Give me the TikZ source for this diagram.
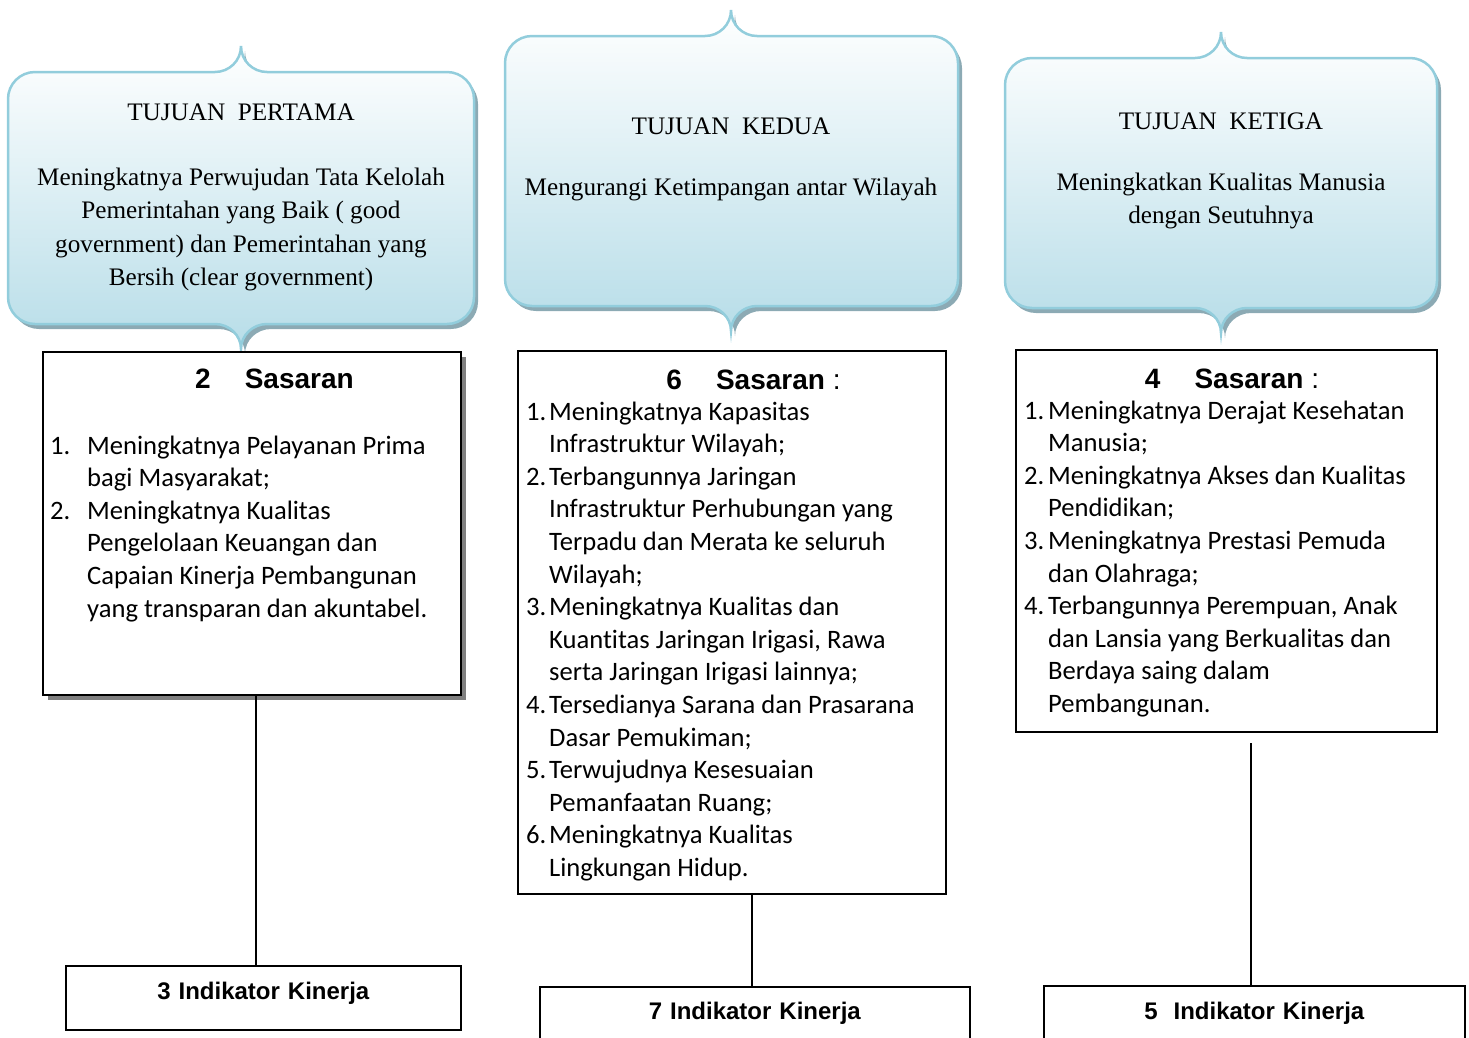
\documentclass[tikz,border=0pt]{standalone}
\usepackage{fontspec}
\setmainfont{Liberation Serif}
\newfontfamily\arialfont{Liberation Sans}
\newfontfamily\calibrifont[Ligatures=NoCommon]{Carlito}
\usepackage{tikz}
\usetikzlibrary{positioning,shadows}

\definecolor{tujuanline}{RGB}{146,205,220}
\definecolor{tujuanfill}{RGB}{183,221,232}
\definecolor{tujuanshadow}{RGB}{140,170,180}

% callout outline: left, top, right, bottom, middle
\newcommand{\tujuanpath}[5]{%
  (#1,#2+27) arc[start angle=180, end angle=270, radius=27] -- (#5-26,#2)
  .. controls (#5-12,#2) and (#5,#2-11) .. (#5,#2-26)
  .. controls (#5,#2-11) and (#5+12,#2) .. (#5+26,#2)
  -- (#3-27,#2) arc[start angle=-90, end angle=0, radius=27]
  -- (#3,#4-27) arc[start angle=0, end angle=90, radius=27]
  -- (#5+26,#4) .. controls (#5+12,#4) and (#5,#4+11) .. (#5,#4+25)
  .. controls (#5,#4+11) and (#5-12,#4) .. (#5-26,#4)
  -- (#1+27,#4) arc[start angle=90, end angle=180, radius=27] -- cycle}

\begin{document}
\begin{tikzpicture}[x=1pt, y=-1pt,
    tujuan/.style = {top color=white, bottom color=tujuanfill, draw=tujuanline, line width=2.5pt},
    bayang/.style = {fill=tujuanshadow, xshift=4pt, yshift=-5pt},
    tujuanteks/.style = {align=center, inner sep=0, anchor=north, font=\fontsize{25.2}{33.5}\selectfont},
    sasaran/.style = {draw, line width=1.6pt, fill=white, inner sep=0, anchor=north west},
    judul/.style = {inner sep=0, anchor=base, font=\arialfont\bfseries\fontsize{28}{34}\selectfont},
    daftar/.style = {inner sep=0, anchor=north west, font=\calibrifont\fontsize{26.6}{32.6}\selectfont},
    indikator/.style = {draw, line width=1.6pt, inner sep=0, anchor=north west, align=center,
                        font=\arialfont\bfseries\fontsize{24}{28}\selectfont},
    garis/.style = {line width=1.6pt}]

    \useasboundingbox (0,0) rectangle (1469,1037);

    % tujuan callouts
    \path[bayang] \tujuanpath{8}{72}{474}{324}{241};
    \path[tujuan] \tujuanpath{8}{72}{474}{324}{241};
    \path[bayang] \tujuanpath{505}{36}{958}{306}{731};
    \path[tujuan] \tujuanpath{505}{36}{958}{306}{731};
    \path[bayang] \tujuanpath{1005}{58}{1437}{308}{1221};
    \path[tujuan] \tujuanpath{1005}{58}{1437}{308}{1221};

    \node[tujuanteks] (tuj1) at (241,103.5) {TUJUAN\ \ PERTAMA\\[31.5pt]
        Meningkatnya Perwujudan Tata Kelolah\\ Pemerintahan yang Baik ( good\\
        government) dan Pemerintahan yang\\ Bersih (clear government)};
    \node[tujuanteks] (tuj2) at (731,117.5) {TUJUAN\ \ KEDUA\\[27.5pt]
        Mengurangi Ketimpangan antar Wilayah};
    \node[tujuanteks] (tuj3) at (1221,112.5) {TUJUAN\ \ KETIGA\\[27.5pt]
        Meningkatkan Kualitas Manusia\\ dengan Seutuhnya};

    % sasaran boxes
    \node[sasaran, minimum width=418pt, minimum height=343pt,
          drop shadow={shadow xshift=5pt, shadow yshift=-5pt, fill=black!50, opacity=1}]
          (sas1) at (42,351) {};
    \node[sasaran, minimum width=428pt, minimum height=543pt] (sas2) at (517,350) {};
    \node[sasaran, minimum width=421pt, minimum height=382pt] (sas3) at (1015,349) {};

    \node[judul] (jud1) at (274.5,388) {2\hspace*{34pt}Sasaran};
    \node[judul] (jud2) at (753.5,389) {6\hspace*{34pt}Sasaran {\mdseries :}};
    \node[judul] (jud3) at (1232,388) {4\hspace*{34pt}Sasaran {\mdseries :}};

    \node[daftar] (daf1) at (50,431) {\begin{tabular}{@{}p{37pt}@{}l@{}}
        1.&Meningkatnya Pelayanan Prima\\
          &bagi Masyarakat;\\
        2.&Meningkatnya Kualitas\\
          &Pengelolaan Keuangan dan\\
          &Capaian Kinerja Pembangunan\\
          &yang transparan dan akuntabel.
        \end{tabular}};
    \node[daftar] (daf2) at (526,397) {\begin{tabular}{@{}p{23pt}@{}l@{}}
        1.&Meningkatnya Kapasitas\\
          &Infrastruktur Wilayah;\\
        2.&Terbangunnya Jaringan\\
          &Infrastruktur Perhubungan yang\\
          &Terpadu dan Merata ke seluruh\\
          &Wilayah;\\
        3.&Meningkatnya Kualitas dan\\
          &Kuantitas Jaringan Irigasi, Rawa\\
          &serta Jaringan Irigasi lainnya;\\
        4.&Tersedianya Sarana dan Prasarana\\
          &Dasar Pemukiman;\\
        5.&Terwujudnya Kesesuaian\\
          &Pemanfaatan Ruang;\\
        6.&Meningkatnya Kualitas\\
          &Lingkungan Hidup.
        \end{tabular}};
    \node[daftar] (daf3) at (1024,396) {\begin{tabular}{@{}p{24pt}@{}l@{}}
        1.&Meningkatnya Derajat Kesehatan\\
          &Manusia;\\
        2.&Meningkatnya Akses dan Kualitas\\
          &Pendidikan;\\
        3.&Meningkatnya Prestasi Pemuda\\
          &dan Olahraga;\\
        4.&Terbangunnya Perempuan, Anak\\
          &dan Lansia yang Berkualitas dan\\
          &Berdaya saing dalam\\
          &Pembangunan.
        \end{tabular}};

    % indikator boxes
    \node[indikator, text width=395pt, text height=34pt, text depth=30pt] (ind1) at (65,965) {3 Indikator Kinerja};
    \node[indikator, text width=430pt, text height=33pt, text depth=60pt] (ind2) at (539,986) {7 Indikator Kinerja};
    \node[indikator, text width=421pt, text height=34pt, text depth=60pt] (ind3) at (1043,985) {5\ \ Indikator Kinerja};

    \coordinate (atas3) at (1251,743);
    \draw[garis] ([xshift=4pt]sas1.south) -- ([xshift=4pt]sas1.south |- ind1.north);
    \draw[garis] ([xshift=-3pt]ind2.north |- sas2.south) -- ([xshift=-3pt]ind2.north);
    \draw[garis] (atas3) -- (atas3 |- ind3.north);

\end{tikzpicture}
\end{document}
